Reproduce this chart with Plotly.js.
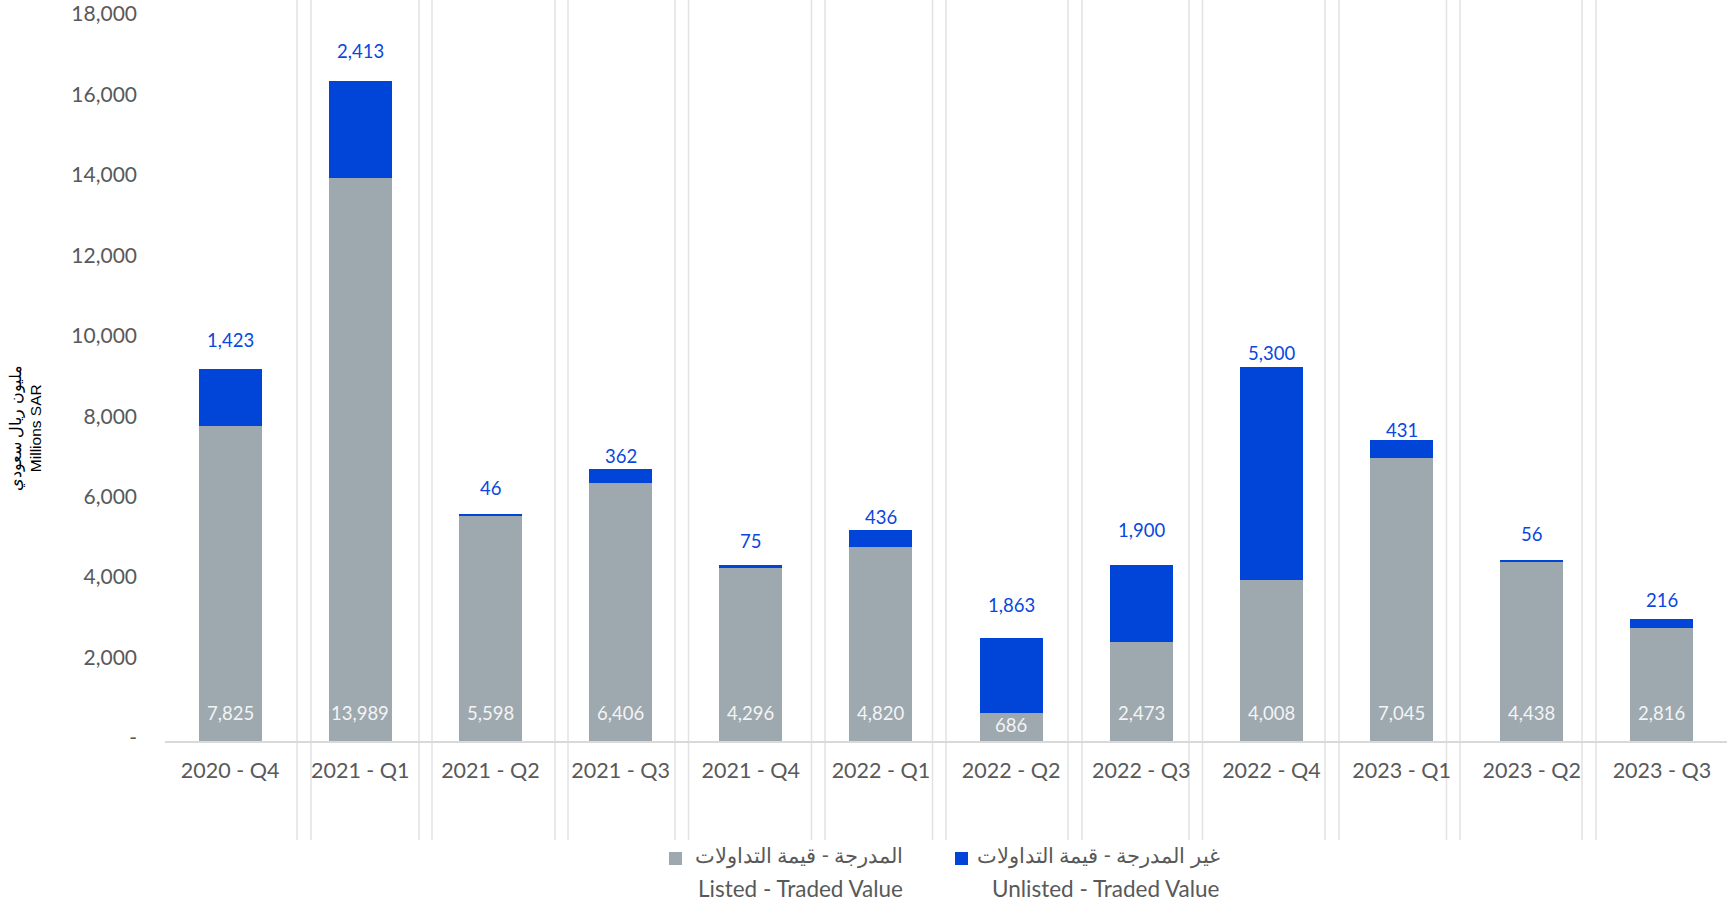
<!DOCTYPE html>
<html>
<head>
<meta charset="utf-8">
<script src="https://cdn.plot.ly/plotly-3.0.1.min.js"></script>
<style>
html,body{margin:0;padding:0;background:#fff;}
#chart{width:1728px;height:904px;}
</style>
</head>
<body>
<div id="chart"></div>
<script>
// ---------------- DATA ----------------
const categories = ['2020 - Q4','2021 - Q1','2021 - Q2','2021 - Q3','2021 - Q4','2022 - Q1',
                    '2022 - Q2','2022 - Q3','2022 - Q4','2023 - Q1','2023 - Q2','2023 - Q3'];
const listedValues   = [7825, 13989, 5598, 6406, 4296, 4820, 686, 2473, 4008, 7045, 4438, 2816];
const unlistedValues = [1423, 2413, 46, 362, 75, 436, 1863, 1900, 5300, 431, 56, 216];
const listedNameAr   = 'المدرجة - قيمة التداولات';
const listedNameEn   = 'Listed - Traded Value';
const unlistedNameAr = 'غير المدرجة - قيمة التداولات';
const unlistedNameEn = 'Unlisted - Traded Value';
const yTitleAr = 'مليون ريال سعودي';
const yTitleEn = 'Millions SAR';
const yTickVals = [0, 2000, 4000, 6000, 8000, 10000, 12000, 14000, 16000, 18000];
const yTickText = ['-', '2,000', '4,000', '6,000', '8,000', '10,000', '12,000', '14,000', '16,000', '18,000'];

// ---------------- STYLE / LAYOUT ----------------
const W = 1728, H = 904;
const M = {l: 165, r: 1, t: 17, b: 163};
const plotW = W - M.l - M.r, plotH = H - M.t - M.b;
const yMax = 18000;
const pxPerUnit = plotH / yMax;
const GRAY = '#9DA8AF', BLUE = '#0044D8', LABEL_BLUE = '#0A47DE';
const TXT = '#595959';
const FONT = 'Lato, "Open Sans", sans-serif';

// per-bar offsets of top labels (px above stack top)
const topLabelShift = [29, 30, 26, 13, 24, 13, 33, 35, 14, 10, 26, 19];
// decorative divider lines (pixel x positions)
const dividerPx = [297,311,419,432,555,568,675,688.5,811.5,825,932.5,946,1068,1082,1189,1202.5,1325,1339,1446.5,1460,1582,1596];

const px2x = px => (px - M.l) / plotW;
const py2y = py => (H - M.b - py) / plotH;
const fmt = v => v.toLocaleString('en-US');

const traces = [
  {type: 'bar', name: listedNameEn, x: categories, y: listedValues,
   marker: {color: GRAY}, hoverinfo: 'skip', showlegend: false},
  {type: 'bar', name: unlistedNameEn, x: categories, y: unlistedValues,
   marker: {color: BLUE}, hoverinfo: 'skip', showlegend: false}
];

const shapes = dividerPx.map(p => ({
  type: 'line', xref: 'paper', yref: 'paper',
  x0: px2x(p), x1: px2x(p), y0: py2y(840), y1: py2y(0),
  line: {color: '#E2E2E2', width: 1.5}, layer: 'below'
}));
// legend squares
shapes.push({type: 'rect', xref: 'paper', yref: 'paper', x0: px2x(669), x1: px2x(682), y0: py2y(865), y1: py2y(852),
             fillcolor: GRAY, line: {width: 0}});
shapes.push({type: 'rect', xref: 'paper', yref: 'paper', x0: px2x(955), x1: px2x(968), y0: py2y(865), y1: py2y(852),
             fillcolor: BLUE, line: {width: 0}});

const annotations = [];
categories.forEach((c, i) => {
  const barPx = listedValues[i] * pxPerUnit;
  annotations.push({x: c, y: 0, xref: 'x', yref: 'y', text: fmt(listedValues[i]), showarrow: false,
    yanchor: 'middle', yshift: Math.min(28, barPx - 12),
    font: {family: FONT, size: 18.5, color: '#F4F4F4'}});
  annotations.push({x: c, y: listedValues[i] + unlistedValues[i], xref: 'x', yref: 'y',
    text: fmt(unlistedValues[i]), showarrow: false, yanchor: 'middle', yshift: topLabelShift[i],
    font: {family: FONT, size: 18.5, color: LABEL_BLUE}});
});
// y-axis title
annotations.push({xref: 'paper', yref: 'paper', x: 0, y: py2y(428), xshift: -(M.l - 25),
  xanchor: 'center', yanchor: 'middle', textangle: -90, showarrow: false,
  text: yTitleAr + '<br>' + yTitleEn,
  font: {family: '"Liberation Sans", Arial, sans-serif', size: 15.5, color: '#000'}});
// legend texts
const legendItems = [
  {ar: listedNameAr, en: listedNameEn, right: 905},
  {ar: unlistedNameAr, en: unlistedNameEn, right: 1222}
];
legendItems.forEach(it => {
  annotations.push({xref: 'paper', yref: 'paper', x: px2x(it.right), y: py2y(856), xanchor: 'right', yanchor: 'middle',
    text: it.ar, showarrow: false, font: {family: FONT, size: 20.5, color: TXT}});
  annotations.push({xref: 'paper', yref: 'paper', x: px2x(it.right), y: py2y(888), xanchor: 'right', yanchor: 'middle',
    text: it.en, showarrow: false, font: {family: FONT, size: 22.5, color: TXT}});
});

const layout = {
  width: W, height: H,
  margin: M,
  paper_bgcolor: '#fff', plot_bgcolor: 'rgba(0,0,0,0)',
  barmode: 'stack', bargap: 0.516,
  showlegend: false,
  font: {family: FONT, color: TXT},
  xaxis: {type: 'category', range: [-0.5, 11.5], showgrid: false, zeroline: false,
          showline: true, linecolor: '#D9D9D9', linewidth: 1.5, ticks: '',
          ticklabelstandoff: 10, tickfont: {family: FONT, size: 21.5, color: TXT}, fixedrange: true},
  yaxis: {range: [0, yMax], tickmode: 'array', tickvals: yTickVals, ticktext: yTickText,
          showgrid: false, zeroline: false, showline: false, ticks: '',
          ticklabelstandoff: 27, ticklabelshift: -3, tickfont: {family: FONT, size: 21, color: TXT}, fixedrange: true},
  shapes: shapes,
  annotations: annotations
};

Plotly.newPlot('chart', traces, layout, {displayModeBar: false, staticPlot: true});
</script>
</body>
</html>
